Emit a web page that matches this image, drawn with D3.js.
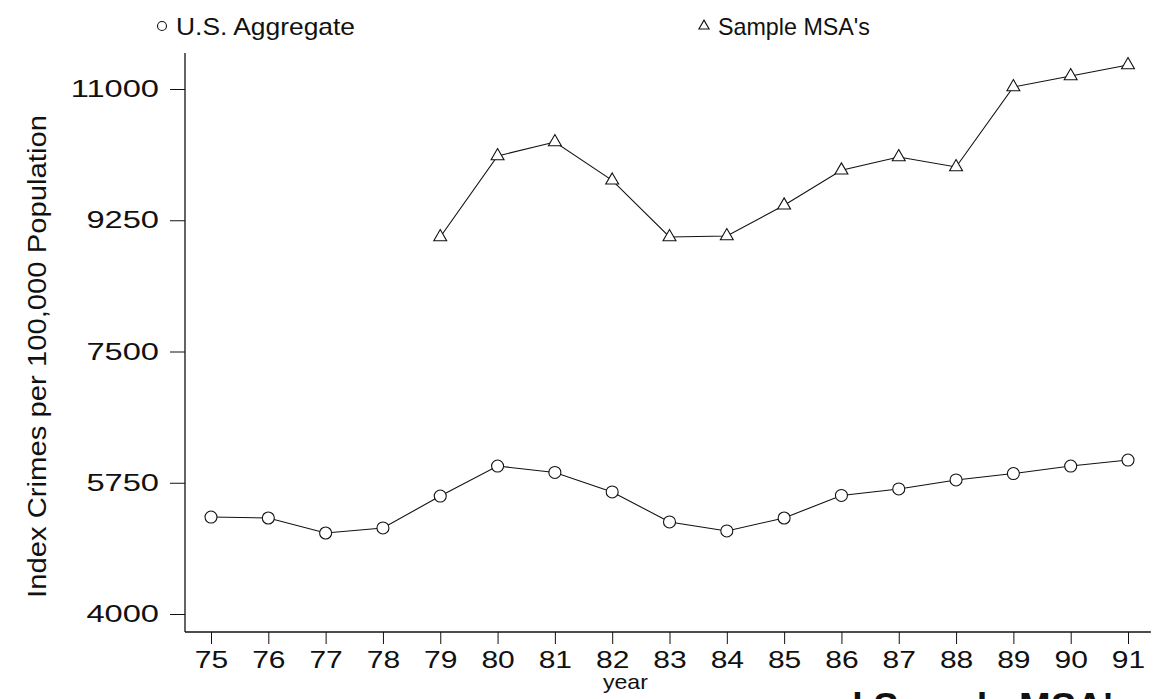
<!DOCTYPE html>
<html>
<head>
<meta charset="utf-8">
<script src="https://cdn.jsdelivr.net/npm/d3@7"></script>
<style>
  html, body { margin: 0; padding: 0; background: #fff; }
  svg { display: block; font-family: "Liberation Sans", Arial, Helvetica, sans-serif; }
  .line { fill: none; stroke: #111; stroke-width: 1.1; }
  .mark { fill: #fff; stroke: #111; stroke-width: 1.1; }
</style>
</head>
<body>
<svg id="chart" width="1156" height="699"></svg>
<script>
// Index crimes per 100,000 population, by year
const years = [75, 76, 77, 78, 79, 80, 81, 82, 83, 84, 85, 86, 87, 88, 89, 90, 91];
const usAggregate = [5293, 5280, 5080, 5147, 5573, 5973, 5887, 5627, 5227, 5107, 5280, 5581, 5667, 5787, 5873, 5973, 6053];
const msaYears = [79, 80, 81, 82, 83, 84, 85, 86, 87, 88, 89, 90, 91];
const sampleMSA = [9027, 10107, 10293, 9782, 9027, 9040, 9449, 9916, 10093, 9960, 11027, 11173, 11320];
const yTicks = [4000, 5750, 7500, 9250, 11000];
const seriesNames = ["U.S. Aggregate", "Sample MSA's"];

// the scanned figure has wide lettering, so stretch text horizontally
function stretch(sel, k) {
  sel.each(function () {
    const w = this.getComputedTextLength();
    d3.select(this).attr('textLength', w * k).attr('lengthAdjust', 'spacingAndGlyphs');
  });
}

function renderChart() {
  const svg = d3.select('#chart');

  const x = d3.scaleLinear().domain([75, 91]).range([211, 1128]);
  const y = d3.scaleLinear().domain([4000, 11000]).range([614, 89]);

  const axisX = 185;   // left axis position
  const axisY = 632;   // bottom axis position

  // axis frame lines
  svg.append('line')
    .attr('x1', axisX).attr('x2', axisX)
    .attr('y1', y(11480)).attr('y2', axisY)
    .attr('stroke', '#111').attr('stroke-width', 1.3);
  svg.append('line')
    .attr('x1', axisX).attr('x2', x(91.4))
    .attr('y1', axisY).attr('y2', axisY)
    .attr('stroke', '#111').attr('stroke-width', 1.3);

  // y axis
  const gy = svg.append('g')
    .attr('transform', `translate(${axisX},0)`)
    .call(d3.axisLeft(y).tickValues(yTicks).tickSize(15).tickPadding(11).tickFormat(d3.format('d')));
  gy.select('.domain').remove();
  gy.selectAll('line').attr('stroke', '#111');
  gy.selectAll('text')
    .attr('font-size', 24)
    .attr('font-family', '"Liberation Sans", Arial, sans-serif')
    .attr('fill', '#111')
    .call(stretch, 1.36);

  // x axis
  const gx = svg.append('g')
    .attr('transform', `translate(0,${axisY})`)
    .call(d3.axisBottom(x).tickValues(years).tickSize(12).tickPadding(7).tickFormat(d3.format('d')));
  gx.select('.domain').remove();
  gx.selectAll('line').attr('stroke', '#111');
  gx.selectAll('text')
    .attr('font-size', 24)
    .attr('font-family', '"Liberation Sans", Arial, sans-serif')
    .attr('fill', '#111')
    .call(stretch, 1.25);

  // axis titles
  svg.append('text')
    .attr('transform', `translate(46,${(y(11000) + y(4000)) / 2 + 5}) rotate(-90)`)
    .attr('text-anchor', 'middle')
    .attr('font-size', 25)
    .attr('fill', '#111')
    .text('Index Crimes per 100,000 Population')
    .call(stretch, 1.17);

  svg.append('text')
    .attr('x', x(82.23))
    .attr('y', 689)
    .attr('text-anchor', 'middle')
    .attr('font-size', 21)
    .attr('fill', '#111')
    .text('year')
    .call(stretch, 1.1);

  // caption cut off by the bottom edge
  svg.append('text')
    .attr('x', x(91.1))
    .attr('y', 720)
    .attr('text-anchor', 'end')
    .attr('font-size', 38)
    .attr('font-weight', 'bold')
    .attr('fill', '#111')
    .text('and Sample MSA\'s');

  const line = d3.line().x(d => x(d[0])).y(d => y(d[1]));
  const usData = years.map((yr, i) => [yr, usAggregate[i]]);
  const msaData = msaYears.map((yr, i) => [yr, sampleMSA[i]]);

  svg.append('path').attr('class', 'line').attr('d', line(usData));
  svg.append('path').attr('class', 'line').attr('d', line(msaData));

  svg.selectAll('.us-mark')
    .data(usData)
    .enter()
    .append('circle')
    .attr('class', 'mark us-mark')
    .attr('cx', d => x(d[0]))
    .attr('cy', d => y(d[1]))
    .attr('r', 6);

  const tri = d3.symbol().type(d3.symbolTriangle).size(72);
  svg.selectAll('.msa-mark')
    .data(msaData)
    .enter()
    .append('path')
    .attr('class', 'mark msa-mark')
    .attr('transform', d => `translate(${x(d[0])},${y(d[1])})`)
    .attr('d', tri);

  // legend
  const legend = svg.append('g');
  legend.append('circle')
    .attr('class', 'mark')
    .attr('cx', 162).attr('cy', 26).attr('r', 4.5);
  legend.append('text')
    .attr('x', 176).attr('y', 35)
    .attr('font-size', 24).attr('fill', '#111')
    .text(seriesNames[0])
    .call(stretch, 1.1);
  legend.append('path')
    .attr('class', 'mark')
    .attr('transform', 'translate(704,26)')
    .attr('d', d3.symbol().type(d3.symbolTriangle).size(45));
  legend.append('text')
    .attr('x', 718).attr('y', 35)
    .attr('font-size', 24).attr('fill', '#111')
    .text(seriesNames[1])
    .call(stretch, 0.97);
}

document.addEventListener('DOMContentLoaded', renderChart);
</script>
</body>
</html>
